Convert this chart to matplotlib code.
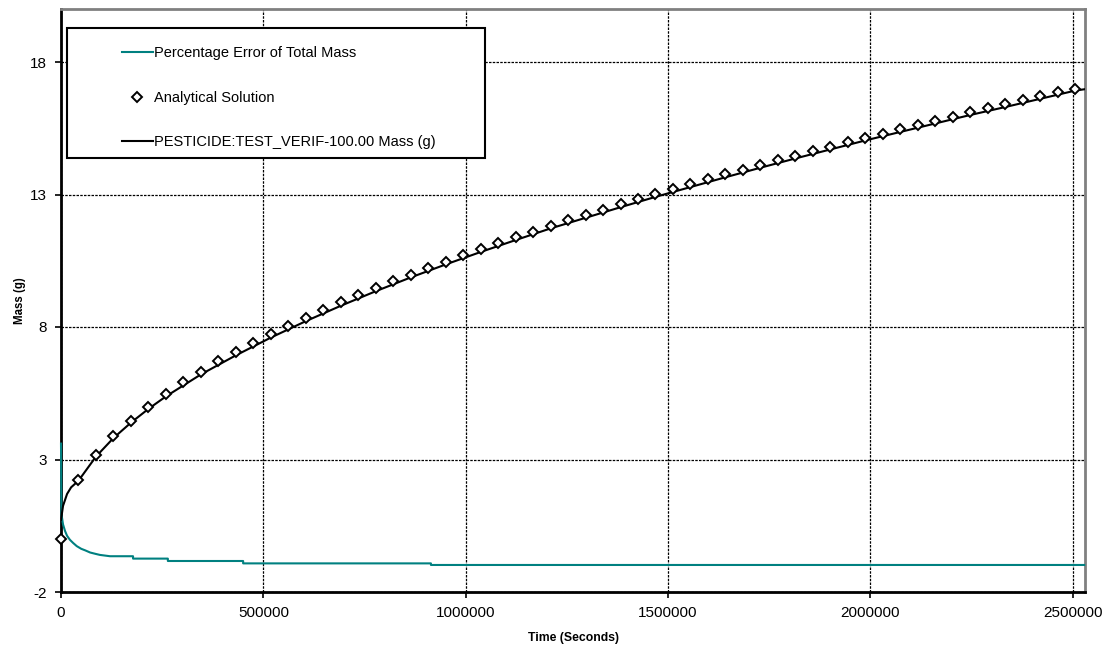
import numpy as np
import matplotlib
matplotlib.use("Agg")
import matplotlib.pyplot as plt
from matplotlib.patches import Rectangle

plt.rcParams['font.family'] = ['Liberation Sans', 'DejaVu Sans']
plt.rcParams['axes.unicode_minus'] = False

# Analytical solution, sampled every half day (43200 s)
analytic_time = np.arange(59) * 43200
analytic_mass = [
    0.00, 2.23, 3.16, 3.87, 4.46, 4.99, 5.47, 5.91, 6.31, 6.70,
    7.06, 7.40, 7.73, 8.05, 8.35, 8.64, 8.93, 9.20, 9.47, 9.73,
    9.98, 10.23, 10.47, 10.70, 10.93, 11.16, 11.38, 11.60, 11.81, 12.02,
    12.23, 12.43, 12.63, 12.82, 13.01, 13.20, 13.39, 13.58, 13.76, 13.94,
    14.12, 14.29, 14.47, 14.64, 14.81, 14.97, 15.14, 15.30, 15.46, 15.62,
    15.78, 15.94, 16.10, 16.25, 16.40, 16.55, 16.70, 16.85, 17.00,
]

# Simulated mass (PESTICIDE:TEST_VERIF-100.00)
sim_time = [
    0, 5000, 15000, 25000, 43200, 86400, 129600, 172800, 216000, 259200,
    345600, 432000, 518400, 604800, 691200, 777600, 864000, 950400, 1036800,
    1123200, 1209600, 1296000, 1382400, 1468800, 1555200, 1641600, 1728000,
    1814400, 1900800, 1987200, 2073600, 2160000, 2246400, 2332800, 2419200,
    2505600, 2528000,
]
sim_mass = [
    0.72, 1.25, 1.70, 1.95, 2.20, 3.11, 3.81, 4.39, 4.91, 5.38,
    6.21, 6.93, 7.60, 8.22, 8.80, 9.35, 9.87, 10.36, 10.83,
    11.28, 11.72, 12.12, 12.52, 12.91, 13.28, 13.65, 14.01,
    14.36, 14.70, 15.04, 15.36, 15.68, 16.00, 16.30, 16.61,
    16.92, 16.97,
]

# Percentage error of total mass (later part is a staircase)
err_time = [
    0, 1000, 2500, 5000, 10000, 15000, 22000, 30000, 39000, 50000,
    60000, 72000, 85000, 96000, 121000,
    178000, 178000, 264000, 264000, 450000, 450000, 914000, 914000,
    2528000,
]
err_pct = [
    3.60, 1.00, 0.80, 0.55, 0.30, 0.12, -0.03, -0.15, -0.27, -0.37,
    -0.43, -0.51, -0.56, -0.60, -0.65,
    -0.65, -0.74, -0.74, -0.83, -0.83, -0.92, -0.92, -0.98,
    -0.98,
]

x_ticks = [0, 500000, 1000000, 1500000, 2000000, 2500000]
y_ticks = [-2, 3, 8, 13, 18]

fig = plt.figure(figsize=(11.19, 6.45), dpi=100)
ax = fig.add_axes([61 / 1119, 53 / 645, 1024 / 1119, 583 / 645])

err_line, = ax.plot(err_time, err_pct, color='#008080', lw=1.5,
                    zorder=3, clip_on=False)
ana_pts, = ax.plot(analytic_time, analytic_mass, ls='none', marker='D',
                   ms=5.5, mfc='white', mec='black', mew=1.4, zorder=5,
                   clip_on=False)
sim_line, = ax.plot(sim_time, sim_mass, color='black', lw=1.5, zorder=4)

ax.set_xlim(0, 2530000)
ax.set_ylim(-2, 20)
ax.set_xticks(x_ticks)
ax.set_xticklabels([str(v) for v in x_ticks])
ax.set_yticks(y_ticks)
ax.tick_params(direction='out', length=4, width=1.2, labelsize=11, pad=6)
ax.grid(True, color='black', lw=0.9, ls=(0, (2, 1)))
ax.set_axisbelow(True)

for side in ('left', 'bottom'):
    ax.spines[side].set_color('black')
    ax.spines[side].set_linewidth(2)
for side in ('top', 'right'):
    ax.spines[side].set_color('#808080')
    ax.spines[side].set_linewidth(2)

ax.set_xlabel('Time (Seconds)', fontsize=8.8, fontweight='bold', labelpad=9)
ax.set_ylabel('Mass (g)', fontsize=8.3, fontweight='bold', labelpad=3)

# legend box drawn separately so the entries can sit well inside it
fig.patches.append(Rectangle((67 / 1119, (645 - 158) / 645), 418 / 1119, 130 / 645,
                             transform=fig.transFigure, facecolor='white',
                             edgecolor='black', lw=1.5, zorder=10))
leg = fig.legend([err_line, ana_pts, sim_line],
                 ['Percentage Error of Total Mass', 'Analytical Solution',
                  'PESTICIDE:TEST_VERIF-100.00 Mass (g)'],
                 loc='upper left', bbox_to_anchor=(122 / 1119, (645 - 46) / 645),
                 frameon=False, fontsize=10.5, borderpad=0, borderaxespad=0,
                 handlelength=2.1, handletextpad=0.12, labelspacing=2.1,
                 numpoints=1)
leg.set_zorder(11)

fig.savefig('out.png', dpi=100)
